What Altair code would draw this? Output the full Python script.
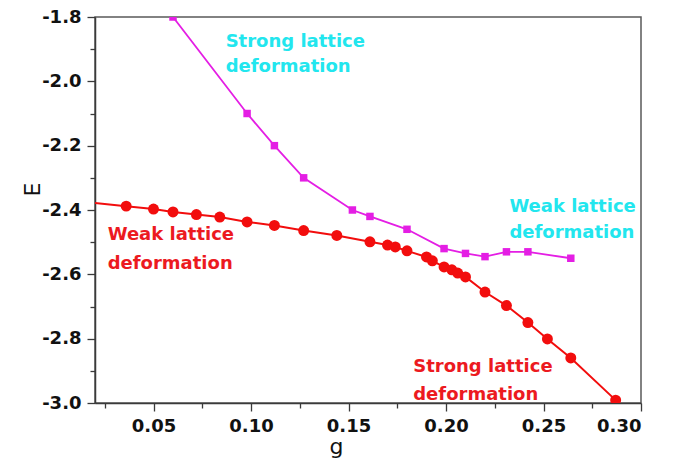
import altair as alt
import pandas as pd

# Ground-state energy E against coupling g
# Red branch (circles)
red_g = [0.036, 0.050, 0.060, 0.072, 0.084, 0.098, 0.112, 0.127, 0.144, 0.161,
         0.170, 0.174, 0.180, 0.190, 0.193, 0.199, 0.203, 0.206, 0.210, 0.220,
         0.231, 0.242, 0.252, 0.264, 0.287]
red_E = [-2.388, -2.397, -2.406, -2.414, -2.422, -2.437, -2.448, -2.464, -2.479, -2.499,
         -2.509, -2.515, -2.527, -2.546, -2.558, -2.577, -2.586, -2.596, -2.608, -2.655,
         -2.697, -2.750, -2.801, -2.860, -2.991]
# the red curve enters from the left edge of the frame
red_lead_g = [0.020]
red_lead_E = [-2.378]

# Magenta branch (squares)
mag_g = [0.060, 0.098, 0.112, 0.127, 0.152, 0.161, 0.180, 0.199, 0.210, 0.220,
         0.231, 0.242, 0.264]
mag_E = [-1.80, -2.10, -2.20, -2.30, -2.40, -2.42, -2.46, -2.52, -2.535, -2.545,
         -2.53, -2.53, -2.55]

# Axis ticks (major + minor)
x_ticks = [0.025, 0.05, 0.075, 0.10, 0.125, 0.15, 0.175, 0.20, 0.225, 0.25, 0.275, 0.30]
y_ticks = [-3.0, -2.9, -2.8, -2.7, -2.6, -2.5, -2.4, -2.3, -2.2, -2.1, -2.0, -1.9, -1.8]

# Region labels
note_text = ["Strong lattice", "deformation", "Weak lattice", "deformation",
             "Weak lattice", "deformation", "Strong lattice", "deformation"]
note_g = [0.087, 0.087, 0.2325, 0.2325, 0.0265, 0.0265, 0.1832, 0.1832]
note_E = [-1.893, -1.971, -2.406, -2.487, -2.493, -2.583, -2.9035, -2.9906]
note_color = ["#22e6ee", "#22e6ee", "#22e6ee", "#22e6ee",
              "#ec1a1f", "#ec1a1f", "#ec1a1f", "#ec1a1f"]

RED = "#f20d0d"
MAGENTA = "#e41ee4"

red_df = pd.DataFrame({"g": red_g, "E": red_E})
red_line_df = pd.DataFrame({"g": red_lead_g + red_g, "E": red_lead_E + red_E})
mag_df = pd.DataFrame({"g": mag_g, "E": mag_E})
note_df = pd.DataFrame({"text": note_text, "g": note_g, "E": note_E, "color": note_color})

x_major = "round(datum.value*1000) % 50 == 0"
y_major = "round(datum.value*10) % 2 == 0"

x_enc = alt.X(
    "g:Q",
    scale=alt.Scale(domain=[0.02, 0.30], nice=False, zero=False),
    axis=alt.Axis(
        values=x_ticks,
        labelExpr=f"{x_major} ? format(datum.value, '.2f') : ''",
        tickSize={"condition": {"test": x_major, "value": 8}, "value": 5},
        title="g",
        titleX=241,
        titleY=50,
        titleBaseline="alphabetic",
        titleAlign="center",
        labelPadding=6,
    ),
)
y_enc = alt.Y(
    "E:Q",
    scale=alt.Scale(domain=[-3.0, -1.8], nice=False, zero=False),
    axis=alt.Axis(
        values=y_ticks,
        # plain hyphen for the minus sign
        labelExpr=f"{y_major} ? (datum.value < 0 ? '-' : '') + format(abs(datum.value), '.1f') : ''",
        tickSize={"condition": {"test": y_major, "value": 8}, "value": 5},
        title="E",
        titleX=-63,
        titleY=172,
        titleAngle=270,
        titleBaseline="middle",
        titleAlign="center",
        labelPadding=6,
    ),
)

mag_line = alt.Chart(mag_df).mark_line(color=MAGENTA, strokeWidth=1.8, clip=True).encode(
    x=x_enc, y=y_enc, order="g:Q")
mag_pts = alt.Chart(mag_df).mark_point(shape="square", filled=True, size=56,
                                       color=MAGENTA, opacity=1, clip=True).encode(x=x_enc, y=y_enc)
red_line = alt.Chart(red_line_df).mark_line(color=RED, strokeWidth=2, clip=True).encode(
    x=x_enc, y=y_enc, order="g:Q")
red_pts = alt.Chart(red_df).mark_point(shape="circle", filled=True, size=120,
                                       color=RED, opacity=1, clip=True).encode(x=x_enc, y=y_enc)
notes = alt.Chart(note_df).mark_text(
    align="left", baseline="alphabetic", font="DejaVu Sans", fontWeight="bold", fontSize=18
).encode(x=x_enc, y=y_enc, text="text:N", color=alt.Color("color:N", scale=None))

chart = (
    alt.layer(mag_line, mag_pts, red_line, red_pts, notes)
    .properties(
        width=546,
        height=386,
        autosize=alt.AutoSizeParams(type="none"),
        padding={"left": 95, "top": 17, "right": 37, "bottom": 58},
        background="white",
    )
    .configure_view(stroke="#5a5a5a", strokeWidth=1.5)
    .configure_axis(
        grid=False,
        domainColor="#3a3a3a",
        domainWidth=1.5,
        tickColor="#3a3a3a",
        tickWidth=1.3,
        labelFont="DejaVu Sans",
        labelFontWeight="bold",
        labelFontSize=18,
        labelColor="#111111",
        titleFont="DejaVu Sans",
        titleFontWeight="normal",
        titleFontSize=22,
        titleColor="#111111",
    )
)

chart.save("out.html", embed_options={"renderer": "svg", "actions": False})
